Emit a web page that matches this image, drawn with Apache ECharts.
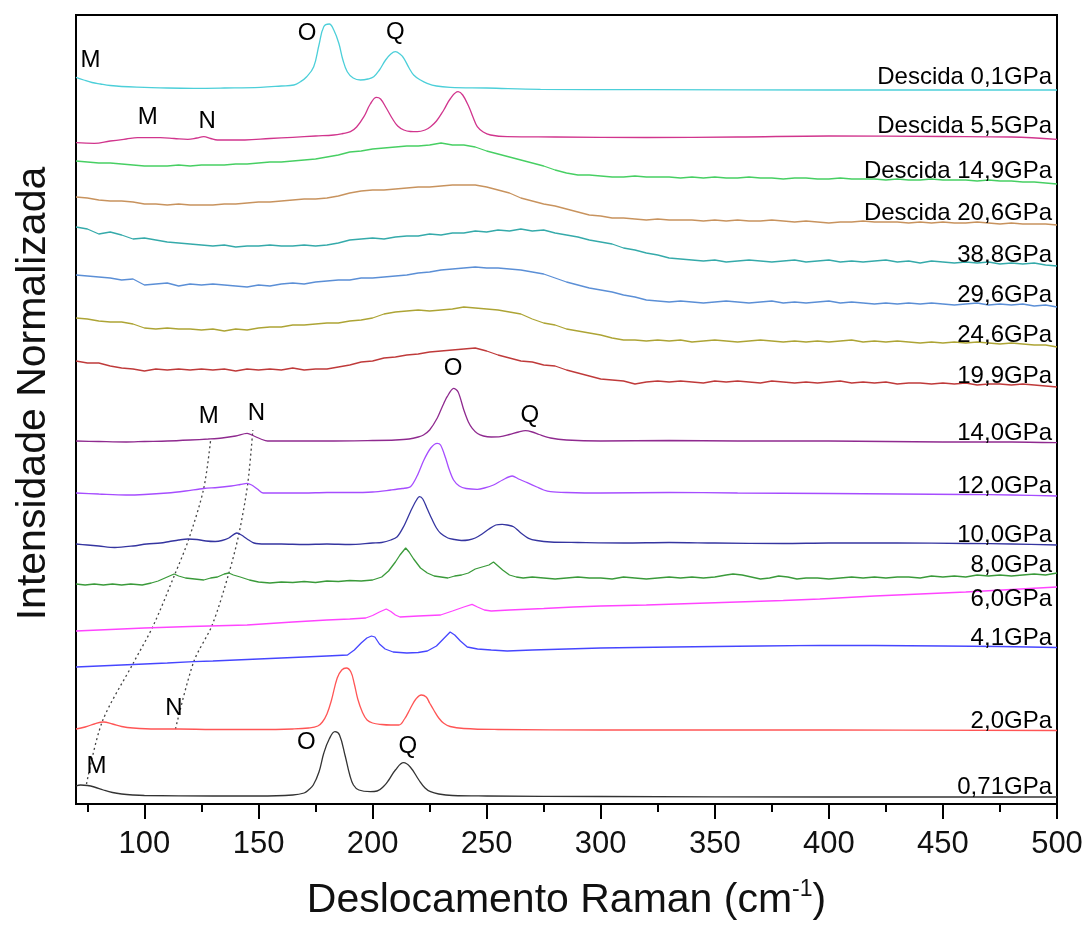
<!DOCTYPE html>
<html>
<head>
<meta charset="utf-8">
<script src="https://cdn.jsdelivr.net/npm/echarts@6/dist/echarts.min.js"></script>
<style>
  html, body { margin: 0; padding: 0; background: #fff; }
  #chart { width: 1087px; height: 934px; }
</style>
</head>
<body>
<div id="chart"></div>
<script>
// Raman spectra under pressure, stacked with a vertical offset per spectrum.
// Intensities are relative to each spectrum's own baseline (arbitrary units).

const FONT = '"Liberation Sans", Arial, Helvetica, sans-serif';

// Tick values of the Raman shift axis (cm-1)
const majorTicks = [100, 150, 200, 250, 300, 350, 400, 450, 500];
const minorTicks = [75, 125, 175, 225, 275, 325, 375, 425, 475];

// Shared sampling grid for the broad, noisy high-pressure spectra
const shiftGrid = [70, 75, 80, 85, 90, 95, 100, 105, 110, 115,
  120, 125, 130, 135, 140, 145, 150, 155, 160, 165,
  170, 175, 180, 185, 190, 195, 200, 205, 210, 215,
  220, 225, 230, 235, 240, 245, 250, 255, 260, 265,
  270, 275, 280, 285, 290, 295, 300, 305, 310, 315,
  320, 325, 330, 335, 340, 345, 350, 355, 360, 365,
  370, 375, 380, 385, 390, 395, 400, 405, 410, 415,
  420, 425, 430, 435, 440, 445, 450, 455, 460, 465,
  470, 475, 480, 485, 490, 495, 500];

// Spectra, bottom to top
const labels = ['0,71GPa', '2,0GPa', '4,1GPa', '6,0GPa', '8,0GPa', '10,0GPa', '12,0GPa', '14,0GPa',
  '19,9GPa', '24,6GPa', '29,6GPa', '38,8GPa', 'Descida 20,6GPa', 'Descida 14,9GPa',
  'Descida 5,5GPa', 'Descida 0,1GPa'];
const offsets = [7, 74, 154, 188, 224, 261, 311, 363, 422, 463, 502, 543, 583, 626, 667, 714];
const labelLevels = [17, 83, 166, 205, 239, 269, 318, 371, 428, 469, 509, 549, 591, 633, 678, 727];
const colors = ['#333333', '#FF5555', '#4646FF', '#FF44FF', '#3A9A3A', '#3535A0', '#A64DFF', '#8F2A8F',
  '#BF3A3A', '#ADA435', '#5B8FD6', '#35AAAA', '#C8935E', '#47CF63', '#D1358D', '#4CCFD9'];

const p071 = [[70, 11], [72, 12], [75, 11.5], [78, 10], [82, 7], [86, 4.5], [90, 3], [95, 2], [100, 1.5],
  [130, 1], [150, 1], [165, 2], [170, 4], [171.9, 7], [174, 12], [176.5, 25], [178.6, 43.7], [181, 58],
  [183.5, 65.3], [185.5, 62], [188, 41], [190, 22], [191.6, 12], [194, 7], [199, 5.3], [202, 6], [205, 11],
  [207.1, 17], [210, 27], [213.6, 34.3], [216.5, 30], [220.3, 17], [223, 9], [225.4, 5.3], [229, 3],
  [235, 1.5], [250, 1], [300, 0.5], [400, 0], [500, 0]];

const p20 = [[70, 1], [74, 3], [78, 6], [82, 8], [86, 6], [90, 3.5], [95, 2], [105, 1], [115, 1], [130, 0.5],
  [150, 0.5], [165, 1], [172, 2], [176, 4], [178, 8], [180, 16], [182, 30], [184.5, 52], [186.5, 60],
  [188.5, 62], [190.5, 58], [192, 46], [193.5, 31], [195.5, 18], [197.6, 10], [200, 7], [204, 5.5],
  [208, 5], [211.5, 5], [214, 11], [216.6, 21.7], [219, 31], [221.4, 35], [223.5, 33], [225, 27],
  [226.8, 20], [229, 12], [231.2, 6.7], [234, 3.5], [240, 1.5], [255, 0.5], [300, 0], [400, 0], [500, -0.5]];

const p41 = [[70, -17], [80, -16], [90, -15], [100, -14], [110, -13], [121.5, -11.7], [130, -11], [140, -10],
  [150, -9], [160, -8], [170, -7], [180, -6], [189, -5], [192, 0], [195, 7], [197.5, 12], [199.5, 14],
  [201, 13], [203, 6], [205.5, 1], [209, -2], [215, -3], [220, -2.5], [224, -1], [228, 4], [231, 11],
  [234, 18], [236, 15], [238.5, 9], [241.5, 3], [246, 1], [252, 0], [259, -1], [270, 0], [285, 1],
  [300, 2], [315, 2.5], [332, 3], [350, 3.5], [370, 4], [396, 4.7], [420, 4.5], [450, 4], [475, 3.5],
  [500, 2.5]];

const p60 = [[70, -15], [85, -13.5], [100, -12], [120, -10.5], [145, -9], [165, -6], [180, -4], [190, -3],
  [197, -2], [200, 0.5], [203, 4], [206, 7], [208, 4.5], [210, 1], [212, -1], [220, 0], [229.8, 1],
  [235, 5], [240, 9], [243.6, 11.7], [246, 9], [249, 6], [252, 5], [260, 6], [275, 7.5], [288, 9],
  [300, 10], [320, 11], [340, 12.5], [360, 14], [380, 15.5], [396, 17], [420, 20], [440, 22], [460, 24],
  [480, 26.5], [500, 29]];

const p80 = [[70, -4], [74, -5], [78, -4], [82, -5], [86, -4], [90, -5], [94, -4], [99, -5], [103, -3],
  [106, -1], [109, 2], [111, 4], [113, 6], [115, 4], [118, 2], [122, 1], [126, 0], [129, 2], [132, 3],
  [135, 6], [137, 7], [139, 5], [142, 3], [146, 0], [150, -2], [155, -3], [160, -2], [165, -2.5],
  [170, -1.5], [175, -2.5], [180, -1], [185, -1.5], [190, -0.5], [195, -1], [200, 0], [204, 3], [207, 9],
  [210, 18], [212, 25], [214.5, 32], [216, 28], [218, 21], [221, 12], [224, 7], [227, 4], [230, 3],
  [233, 2], [236, 4], [239, 5], [242, 7], [245, 11], [248, 13], [251, 15], [253, 18], [255, 14],
  [257, 10], [260, 5], [263, 3], [266, 2], [270, 3], [275, 2], [280, 1], [285, 2], [290, 3], [295, 2],
  [300, 2], [305, 1], [310, 3], [315, 2], [320, 1], [325, 2], [330, 3], [335, 2], [340, 3], [345, 2],
  [350, 3], [355, 5], [358, 6], [362, 5], [366, 3], [370, 1], [374, 2], [378, 4], [382, 3], [386, 1],
  [390, 2], [395, 2], [400, 1], [405, 2], [410, 3], [415, 2], [420, 3], [425, 2], [430, 3], [435, 3],
  [440, 2], [445, 4], [450, 3], [455, 4], [460, 3], [465, 5], [470, 4], [475, 5], [480, 4], [485, 5],
  [490, 6], [495, 5], [500, 7]];

const p100 = [[70, -1], [75, -2], [80, -3], [87, -4.5], [95, -3], [101, -1], [107, 0], [111, 1.5], [115, 3],
  [119, 4], [123, 3.5], [127, 2], [131, 1.5], [134, 2.5], [137, 5], [140.5, 10], [142.5, 8], [145, 4],
  [148, 0], [153, -1], [160, -1], [170, -1.5], [180, -1], [190, -1.5], [200, 0], [204, 0.5], [208, 3],
  [210.8, 6.3], [213.5, 16], [216.6, 31.3], [219, 42], [220.6, 46.3], [222, 44], [224, 34], [226, 24],
  [228, 15], [229.8, 9.7], [233, 5], [236, 3.5], [239, 2.5], [242, 3], [245, 5], [248, 9], [251, 14],
  [254, 18], [256.8, 18.7], [259, 18], [261.8, 16.3], [264.5, 11], [268.4, 4.7], [272, 2.5], [278, 1],
  [290, 0.5], [310, 0], [330, 0.5], [350, 0], [380, -0.5], [400, 0], [430, 0], [460, -0.5], [480, -1],
  [500, -2]];

const p120 = [[70, 0], [80, -1], [92, -2], [100, -1.5], [110, 0], [118, 2], [126, 4.5], [132, 5.5],
  [138, 7], [142, 8.5], [145, 9.7], [147, 8], [149.5, 4], [152, 0], [160, 0], [170, 0], [180, 0.5],
  [190, 0.5], [200, 1], [208, 3], [213, 4.5], [216.6, 6.3], [219.5, 17], [222.5, 33], [225.5, 45],
  [228.3, 49.7], [229.8, 48], [232, 35], [233.5, 24], [235.5, 13], [238, 7], [241, 4.5], [245.9, 3.7],
  [249, 5], [253, 8], [257, 13], [261.2, 17], [264, 14], [267.8, 10.3], [272, 6], [275, 3], [278, 1.3],
  [285, 0.5], [300, 0], [330, 0.5], [360, 0], [400, -0.5], [430, -1], [460, -1.5], [480, -2], [500, -3]];

const p140 = [[70, 0], [80, -0.5], [92, -1], [100, -0.5], [110, 0], [120, 1], [128, 2], [134, 3],
  [140, 5], [145, 7.7], [148, 5], [151, 2], [154, 0], [165, 0], [180, 0], [200, 0.5], [210, 1], [216, 2],
  [220, 4], [222.3, 6], [225, 11], [228.3, 22.7], [230.5, 34], [232.7, 44.3], [235.5, 52.7], [237.5, 49],
  [240, 31], [242, 19], [243.7, 12.7], [246, 7.5], [248.6, 5], [252, 4], [256, 4.3], [260, 6.5],
  [264, 9], [267, 10.3], [270, 9], [273, 6.5], [278, 3], [285, 1], [300, 0], [330, 0.5], [360, 0],
  [400, 0], [450, -1], [480, -1], [500, -1.7]];

const p199 = [21, 19, 19, 16, 14, 13, 11, 13, 12, 13,
  12, 13, 12, 13, 11, 13, 12, 13, 12, 14,
  12, 13, 13, 15, 17, 20, 21, 24, 25, 27,
  28, 30, 31, 32, 33, 34, 31, 27, 24, 21,
  20, 17, 16, 12, 9, 6, 3, 2, 1, -2,
  0, 1, 0, 1, 0, -1, 1, 0, 1, 0,
  -1, 1, 0, -1, 0, -1, 0, 1, -1, 0,
  -1, 0, -2, -1, -1, -2, -1, -2, -1, -3,
  -2, -2, -3, -2, -3, -4, -5];

const p246 = [23, 22, 20, 19, 19, 17, 13, 12, 13, 12,
  12, 11, 12, 10, 12, 11, 13, 14, 14, 16,
  16, 17, 18, 18, 20, 21, 23, 27, 29, 30,
  31, 30, 31, 32, 34, 33, 32, 31, 29, 27,
  22, 18, 16, 12, 10, 8, 6, 3, 1, 1,
  0, 1, 0, 1, -1, 0, 1, 0, -1, 0,
  1, 0, -1, 0, -1, 0, -1, 0, 1, -1,
  0, -1, 0, -1, -2, -1, -2, -1, -2, -1,
  -2, -3, -2, -3, -4, -4, -6];

const p296 = [27, 26, 25, 24, 22, 23, 17, 18, 19, 16,
  18, 17, 18, 17, 16, 15, 17, 16, 18, 19,
  18, 20, 21, 22, 22, 24, 24, 25, 26, 27,
  29, 30, 32, 33, 34, 35, 34, 34, 33, 32,
  30, 28, 24, 20, 17, 14, 12, 10, 7, 5,
  2, 1, 0, 1, 0, -1, 0, 1, 0, -1,
  0, 1, -1, 0, -1, 0, 1, -1, 0, -1,
  -2, -1, -2, -1, -2, -1, -2, -3, -2, -1,
  -3, -2, -3, -2, -4, -3, -5];

const p388 = [34, 32, 27, 29, 26, 22, 23, 21, 19, 18,
  17, 16, 15, 16, 14, 15, 15, 16, 15, 15,
  16, 15, 16, 18, 21, 22, 23, 22, 24, 25,
  25, 27, 26, 28, 28, 30, 29, 31, 30, 32,
  30, 31, 28, 26, 24, 21, 19, 17, 13, 11,
  8, 6, 3, 2, 1, 0, 1, -1, 0, 1,
  0, -1, 0, 1, -1, 0, 1, -1, 0, -1,
  0, 1, -1, 0, -2, 0, -1, -2, -1, -2,
  -1, -3, -2, -3, -2, -4, -5];

const p206d = [24, 23, 21, 20, 20, 19, 17, 17, 16, 17,
  16, 16, 16, 17, 17, 18, 19, 19, 20, 21,
  22, 22, 23, 25, 28, 30, 31, 31, 32, 33,
  34, 34, 35, 36, 36, 36, 34, 31, 28, 23,
  20, 17, 15, 12, 9, 6, 5, 3, 3, 2,
  1, 2, 1, 1, 1, 0, 1, 0, 1, 0,
  0, 1, 0, -1, 0, -1, -2, -1, -1, 0,
  -1, -1, -1, -2, -1, -2, -1, -2, -2, -1,
  -2, -3, -2, -3, -3, -3, -4];

const p149d = [17, 16, 15, 15, 14, 13, 12, 12, 12, 13,
  12, 13, 13, 13, 14, 14, 15, 16, 16, 17,
  18, 19, 21, 23, 26, 27, 29, 30, 31, 32,
  32, 33, 35, 33, 33, 31, 27, 24, 21, 18,
  15, 12, 8, 5, 3, 3, 2, 1, 1, 2,
  1, 1, 1, 0, 1, 0, 1, 0, 0, 1,
  0, 0, -1, 0, 0, -1, -1, 0, -1, -1,
  -1, -2, -1, -2, -2, -1, -2, -2, -2, -3,
  -2, -3, -3, -4, -4, -5, -6];

const p55d = [[70, -5.7], [78, -6.3], [85, -4], [92, -2], [97, -0.7], [107, -0.7], [113, -1.5], [119, -2.3],
  [123, -1], [126, 0.3], [129, -1.5], [132, -3], [144, -3], [155, -1.5], [165, -0.3], [175, 1], [183, 2],
  [187, 3.5], [190.3, 5.3], [193, 10], [196.2, 20.3], [199, 33], [201.7, 39.7], [203.5, 38], [206, 29],
  [208.5, 19], [211, 11], [213.7, 7], [216.5, 5.5], [219.6, 5.3], [223, 7], [225.4, 10.3], [228, 16],
  [231.2, 27], [234, 38], [237.5, 45.3], [239.5, 42], [242.2, 30.3], [244, 20], [245.9, 10.3], [248.5, 5],
  [251.7, 2], [259, 0.3], [280, 0], [320, -0.5], [360, 0], [400, 1], [450, 0.5], [480, 0], [500, -2.3]];

const p01d = [[70, 12.7], [73.4, 10], [77, 7.5], [80.7, 6], [85, 4.5], [90, 3.5], [100, 2.7], [110, 2],
  [121.6, 1.7], [135, 2], [150.9, 2.7], [160, 4], [165.5, 5], [168.4, 8.3], [171, 13], [174.2, 23.3],
  [176.5, 45], [178.6, 63.3], [181, 66], [183, 60], [185.2, 46.7], [187, 30], [188.9, 18.3], [191.5, 12],
  [194.7, 10], [198, 11], [200.5, 13.3], [203, 20], [205.7, 30], [208, 36], [210, 38.3], [212, 36],
  [213.7, 31.7], [216, 22], [218, 15], [221, 10], [223.9, 6.7], [228, 4], [234, 2.7], [250, 2],
  [273.6, 0.7], [320, 0.3], [400, 0], [500, 0]];

// Pair a shared-grid intensity list with its Raman shifts
const onGrid = (vals) => vals.map((v, i) => [shiftGrid[i], v]);

const spectra = [p071, p20, p41, p60, p80, p100, p120, p140,
  onGrid(p199), onGrid(p246), onGrid(p296), onGrid(p388), onGrid(p206d), onGrid(p149d), p55d, p01d];
const smoothing = [0.4, 0.4, 0, 0, 0, 0.3, 0.3, 0.3, 0, 0, 0, 0, 0, 0, 0.4, 0.4];

// Dotted guides following the M and N modes with pressure (absolute stacked coordinates)
const guideM = [[74.6, 20], [81.5, 82.3], [95.2, 141.3], [103.8, 178], [113.2, 229], [119.4, 264.7],
  [126, 315.7], [129.1, 365.7]];
const guideN = [[113.6, 75], [121.6, 142.3], [129.7, 179], [137, 230.7], [141.4, 270], [145.3, 320.7],
  [147.5, 374]];

// Mode labels (absolute stacked coordinates)
const modeLabels = [
  ['M', 76.4, 744], ['O', 171.3, 770.7], ['Q', 210.0, 771.7],
  ['M', 101.5, 686.7], ['N', 127.5, 682.3],
  ['O', 235.3, 435.7], ['Q', 268.9, 388.3], ['M', 128.2, 387.3], ['N', 149.1, 390.7],
  ['N', 112.9, 95.7],
  ['O', 171.0, 61.3], ['Q', 215.4, 57.3], ['M', 79.0, 37.3]
];

const series = spectra.map((pts, i) => ({
  type: 'line',
  name: labels[i],
  data: pts.map(p => [p[0], offsets[i] + p[1]]),
  showSymbol: false,
  smooth: smoothing[i],
  silent: true,
  lineStyle: { color: colors[i], width: 1.3 },
  z: 3
}));

[guideM, guideN].forEach(g => series.push({
  type: 'line',
  data: g,
  showSymbol: false,
  smooth: 0.3,
  silent: true,
  lineStyle: { color: '#444', width: 1.3, type: [2, 3] },
  z: 2
}));

// Text drawn at data coordinates through the grid's scales
function textSeries(items, font, align, dx) {
  return {
    type: 'custom',
    silent: true,
    clip: false,
    z: 5,
    data: items.map((it, k) => [it.x, it.y, k]),
    renderItem: (params, api) => {
      const p = api.coord([api.value(0), api.value(1)]);
      return {
        type: 'text',
        x: p[0] + dx,
        y: p[1],
        style: {
          text: items[api.value(2)].text,
          fill: '#000',
          font: font,
          align: align,
          verticalAlign: 'middle'
        }
      };
    }
  };
}

// Spectrum names at the right end of each trace
series.push(textSeries(labels.map((t, i) => ({ text: t, x: 500, y: labelLevels[i] })),
  '24px ' + FONT, 'right', -5));

// Mode letters above the peaks
series.push(textSeries(modeLabels.map(m => ({ text: m[0], x: m[1], y: m[2] })),
  '24px ' + FONT, 'center', 0));

const chart = echarts.init(document.getElementById('chart'), null, { renderer: 'canvas' });
chart.setOption({
  animation: false,
  backgroundColor: '#fff',
  grid: {
    left: 76, right: 30, top: 15, bottom: 130,
    show: true, borderColor: '#000', borderWidth: 2, backgroundColor: 'transparent'
  },
  xAxis: [{
    type: 'value', min: 70, max: 500, position: 'bottom',
    axisLine: { show: true, onZero: false, lineStyle: { color: '#000', width: 2 } },
    axisTick: { show: true, inside: false, length: 15, lineStyle: { color: '#000', width: 2 },
      customValues: majorTicks },
    axisLabel: { show: true, customValues: majorTicks, margin: 25, color: '#111',
      fontFamily: FONT, fontSize: 31 },
    splitLine: { show: false },
    name: '{t|Deslocamento Raman (cm}{s|-1}{t|)}',
    nameLocation: 'middle',
    nameGap: 74,
    nameTextStyle: {
      rich: {
        t: { fontFamily: FONT, fontSize: 41, color: '#111', lineHeight: 46 },
        s: { fontFamily: FONT, fontSize: 23, color: '#111', lineHeight: 46, verticalAlign: 'top',
          padding: [0, 0, 14, 0] }
      }
    }
  }, {
    type: 'value', min: 70, max: 500, position: 'bottom',
    axisLine: { show: false },
    axisTick: { show: true, inside: false, length: 8, lineStyle: { color: '#000', width: 2 },
      customValues: minorTicks },
    axisLabel: { show: false },
    splitLine: { show: false }
  }],
  yAxis: {
    type: 'value', min: 0, max: 789,
    axisLine: { show: false },
    axisTick: { show: false },
    axisLabel: { show: false },
    splitLine: { show: false },
    name: 'Intensidade Normalizada',
    nameLocation: 'middle',
    nameRotate: 90,
    nameGap: 22,
    nameTextStyle: { fontFamily: FONT, fontSize: 41, color: '#111', padding: [0, 0, 0, 32] }
  },
  series: series
});
</script>
</body>
</html>
